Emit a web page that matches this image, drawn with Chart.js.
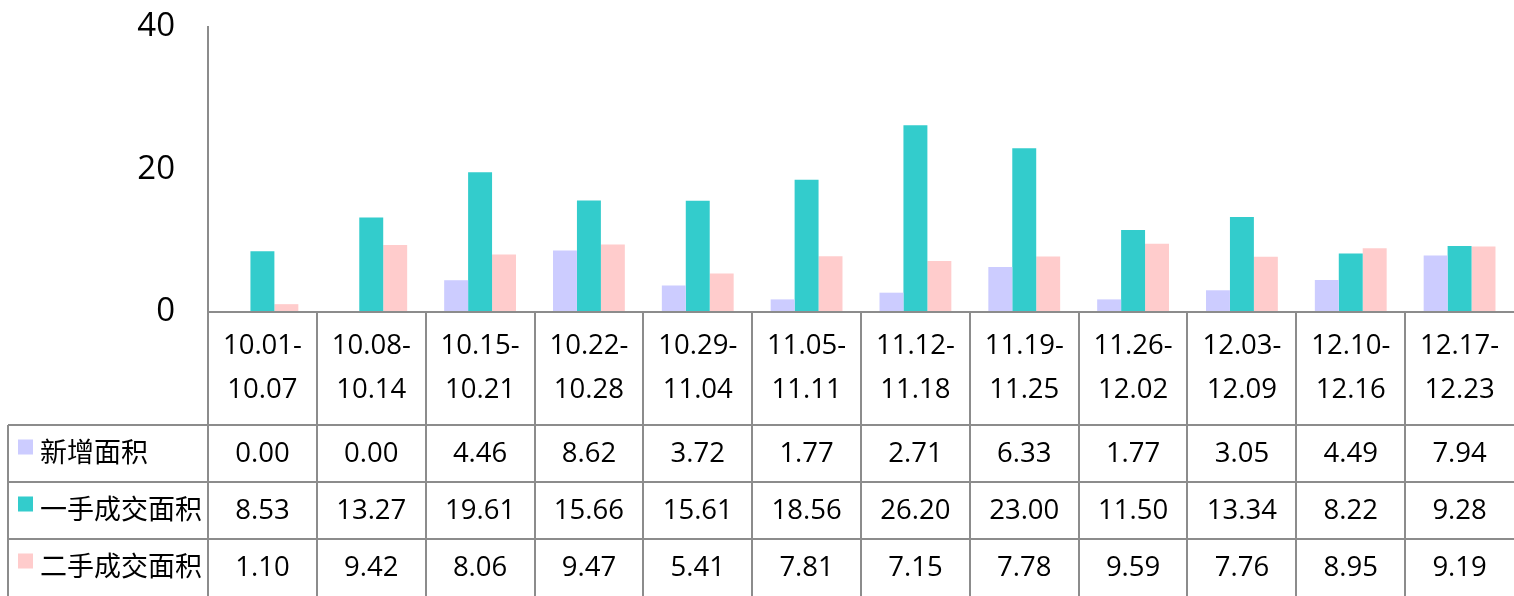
<!DOCTYPE html>
<html><head><meta charset="utf-8">
<script src="https://cdn.jsdelivr.net/npm/chart.js@4/dist/chart.umd.min.js"></script>
<style>html,body{margin:0;padding:0;background:#fff;}#wrap{width:1514px;height:596px;position:relative;}</style>
</head><body><div id="wrap"><canvas id="c" width="1514" height="596"></canvas></div>
<script>
const categories = [['10.01-','10.07'],['10.08-','10.14'],['10.15-','10.21'],['10.22-','10.28'],['10.29-','11.04'],['11.05-','11.11'],['11.12-','11.18'],['11.19-','11.25'],['11.26-','12.02'],['12.03-','12.09'],['12.10-','12.16'],['12.17-','12.23']];
const seriesNames = ['新增面积','一手成交面积','二手成交面积'];
const xinzeng = [0.00,0.00,4.46,8.62,3.72,1.77,2.71,6.33,1.77,3.05,4.49,7.94];
const yishou = [8.53,13.27,19.61,15.66,15.61,18.56,26.20,23.00,11.50,13.34,8.22,9.28];
const ershou = [1.10,9.42,8.06,9.47,5.41,7.81,7.15,7.78,9.59,7.76,8.95,9.19];
const yTicks = [0,20,40];
const colors = ['#CCCCFF','#33CCCC','#FFCCCC'];
const FONT = '"Open Sans","Noto Sans CJK SC",sans-serif';
const LINE = '#8c8c8c';

const tablePlugin = {
  id:'dataTable',
  afterDraw(chart){
    const ctx = chart.ctx, x = chart.scales.x, area = chart.chartArea;
    const n = categories.length;
    const half = (x.getPixelForValue(1) - x.getPixelForValue(0))/2;
    const top = area.bottom, hdrBottom = 425, rowH = 57, bottom = 596, leftX = 8;
    const rows = [xinzeng, yishou, ershou];
    ctx.save();
    ctx.strokeStyle = LINE; ctx.lineWidth = 2;
    ctx.beginPath();
    ctx.moveTo(area.left, top); ctx.lineTo(area.right, top);
    for(let r=0;r<3;r++){ const y = hdrBottom + r*rowH; ctx.moveTo(leftX, y); ctx.lineTo(area.right, y); }
    ctx.moveTo(leftX, hdrBottom); ctx.lineTo(leftX, bottom);
    for(let i=0;i<n;i++){
      const xl = Math.round(x.getPixelForValue(i) - half);
      ctx.moveTo(xl, top); ctx.lineTo(xl, bottom);
    }
    ctx.stroke();
    ctx.fillStyle = '#000';
    ctx.font = '27.5px ' + FONT;
    ctx.textAlign = 'center'; ctx.textBaseline = 'middle';
    for(let i=0;i<n;i++){
      const cx = x.getPixelForValue(i);
      ctx.fillText(categories[i][0], cx, 346);
      ctx.fillText(categories[i][1], cx, 390);
      for(let r=0;r<3;r++){
        ctx.fillText(rows[r][i].toFixed(2), cx, hdrBottom + r*rowH + rowH/2 + 1);
      }
    }
    ctx.textAlign = 'left';
    ctx.font = '27px ' + FONT;
    for(let r=0;r<3;r++){
      const yc = hdrBottom + r*rowH + rowH/2;
      ctx.fillStyle = colors[r];
      ctx.fillRect(18, yc - 14, 15, 15);
      ctx.fillStyle = '#000';
      ctx.fillText(seriesNames[r], 40, yc + 1);
    }
    ctx.restore();
  }
};

new Chart(document.getElementById('c'), {
  type:'bar',
  data:{
    labels: categories.map(c=>c.join('')),
    datasets:[
      {label:seriesNames[0], data:xinzeng, backgroundColor:colors[0]},
      {label:seriesNames[1], data:yishou, backgroundColor:colors[1]},
      {label:seriesNames[2], data:ershou, backgroundColor:colors[2]}
    ]
  },
  options:{
    responsive:false, animation:false,
    layout:{padding:{top:27,right:0,bottom:284,left:0}},
    datasets:{bar:{categoryPercentage:0.66,barPercentage:1.0}},
    plugins:{legend:{display:false},tooltip:{enabled:false}},
    scales:{
      x:{display:false},
      y:{
        min:0,max:40,
        afterFit(s){ s.width = 208; s.paddingTop = 0; s.paddingBottom = 0; },
        afterBuildTicks(s){ s.ticks = yTicks.map(v=>({value:v})); },
        grid:{display:true,drawOnChartArea:false,drawTicks:false},
        border:{display:true,color:LINE,width:2},
        ticks:{padding:33,color:'#000',font:{size:33,family:FONT}}
      }
    }
  },
  plugins:[tablePlugin]
});
</script></body></html>
